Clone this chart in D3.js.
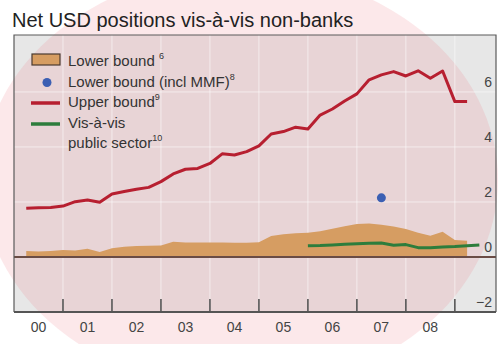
<!DOCTYPE html>
<html>
<head>
<meta charset="utf-8">
<script src="https://cdn.jsdelivr.net/npm/d3@7"></script>
<style>
  html, body { margin: 0; padding: 0; background: #fff; }
  svg { display: block; font-family: "Liberation Sans", Arial, sans-serif; }
</style>
</head>
<body>
<svg id="chart" width="500" height="344"></svg>
<script>
// ---------- data ----------
const yearLabels = ["00", "01", "02", "03", "04", "05", "06", "07", "08"];
const yTicks = [-2, 0, 2, 4, 6];
// quarterly observations, 2000 Q1 .. 2009 Q1 (plotted at quarter end)
const startYear = 2000;
const upperBound = [1.77, 1.79, 1.80, 1.85, 2.01, 2.07, 1.99, 2.29, 2.38, 2.46, 2.53, 2.74,
  3.02, 3.19, 3.22, 3.40, 3.75, 3.71, 3.83, 4.04, 4.47, 4.56, 4.72, 4.65,
  5.16, 5.38, 5.67, 5.93, 6.44, 6.62, 6.74, 6.58, 6.77, 6.50, 6.76, 5.65, 5.65];
const lowerBound = [0.22, 0.20, 0.22, 0.25, 0.24, 0.30, 0.18, 0.32, 0.37, 0.40, 0.41, 0.42,
  0.55, 0.53, 0.53, 0.53, 0.53, 0.52, 0.52, 0.54, 0.76, 0.83, 0.86, 0.88,
  0.94, 1.03, 1.12, 1.20, 1.22, 1.17, 1.11, 1.02, 0.88, 0.77, 0.92, 0.62, 0.59];
// public sector series starts 2005 Q3
const publicStartIndex = 23;
const publicSector = [0.41, 0.42, 0.44, 0.46, 0.48, 0.50, 0.51, 0.43, 0.45, 0.34, 0.34, 0.36, 0.38, 0.41, 0.44];
// single observation: lower bound incl MMF, 2007 Q2
const mmfPoint = { t: 2007.5, v: 2.15 };

const qTime = i => startYear + (i + 1) * 0.25;

// ---------- layout ----------
const svg = d3.select("#chart");
const L = 14, R = 496, T = 35, B = 312;
const x = d3.scaleLinear().domain([2000, 2009.84]).range([L, R]);
const y = d3.scaleLinear().domain([-2, 8.07]).range([B, T]);

// plot background
svg.append("rect").attr("x", L).attr("y", T).attr("width", R - L).attr("height", B - T)
  .attr("fill", "#e7e7e7");

// pink highlight ellipse
svg.append("ellipse").attr("cx", 240).attr("cy", 180).attr("rx", 258).attr("ry", 210)
  .attr("fill", "rgb(240,120,132)").attr("fill-opacity", 0.17);

// gridlines
const years = d3.range(2001, 2010);
svg.append("g").selectAll("line").data(years).join("line")
  .attr("x1", d => x(d)).attr("x2", d => x(d)).attr("y1", T).attr("y2", B)
  .attr("stroke", "#fff").attr("stroke-opacity", 0.55).attr("stroke-width", 1);
svg.append("g").selectAll("line").data([2, 4, 6]).join("line")
  .attr("x1", L).attr("x2", R).attr("y1", d => y(d)).attr("y2", d => y(d))
  .attr("stroke", "#fff").attr("stroke-opacity", 0.55).attr("stroke-width", 1);

// lower bound area
const areaData = lowerBound.map((v, i) => ({ t: qTime(i), v }));
svg.append("path").datum(areaData)
  .attr("d", d3.area().x(d => x(d.t)).y0(y(0)).y1(d => y(d.v)))
  .attr("fill", "#d69d62");

// upper bound line
const upperData = upperBound.map((v, i) => ({ t: qTime(i), v }));
svg.append("path").datum(upperData)
  .attr("d", d3.line().x(d => x(d.t)).y(d => y(d.v)))
  .attr("fill", "none").attr("stroke", "#b71f30").attr("stroke-width", 3)
  .attr("stroke-linejoin", "round");

// public sector line
const pubData = publicSector.map((v, i) => ({ t: qTime(publicStartIndex + i), v }));
svg.append("path").datum(pubData)
  .attr("d", d3.line().x(d => x(d.t)).y(d => y(d.v)))
  .attr("fill", "none").attr("stroke", "#2d7d3c").attr("stroke-width", 3)
  .attr("stroke-linejoin", "round");

// MMF dot
svg.append("circle").attr("cx", x(mmfPoint.t)).attr("cy", y(mmfPoint.v)).attr("r", 4.5)
  .attr("fill", "#3b5fb3");

// zero line
svg.append("line").attr("x1", L).attr("x2", R).attr("y1", y(0)).attr("y2", y(0))
  .attr("stroke", "#6a4c45").attr("stroke-width", 2);

// frame
svg.append("path")
  .attr("d", `M${L},${B}V${T}H${R}V${B}`)
  .attr("fill", "none").attr("stroke", "#5a5a5a").attr("stroke-width", 1.2);
svg.append("line").attr("x1", L).attr("x2", R).attr("y1", B).attr("y2", B)
  .attr("stroke", "#555").attr("stroke-width", 1.8);

// x tick marks (inward)
svg.append("g").selectAll("line").data(years).join("line")
  .attr("x1", d => x(d)).attr("x2", d => x(d)).attr("y1", B).attr("y2", B - 13)
  .attr("stroke", "#555").attr("stroke-width", 1.6);

// x labels
svg.append("g").selectAll("text").data(yearLabels).join("text")
  .attr("x", (d, i) => x(2000 + i + 0.5)).attr("y", 332)
  .attr("text-anchor", "middle").attr("font-size", 14).attr("fill", "#444")
  .text(d => d);

// y labels (right, above gridline)
svg.append("g").selectAll("text").data(yTicks).join("text")
  .attr("x", 492).attr("y", d => y(d) - 5)
  .attr("text-anchor", "end").attr("font-size", 14).attr("fill", "#444")
  .text(d => d < 0 ? "\u2212" + Math.abs(d) : d);

// title
svg.append("text").attr("x", 12).attr("y", 27).attr("font-size", 20).attr("fill", "#222")
  .text("Net USD positions vis-à-vis non-banks");

// legend
const lg = svg.append("g").attr("font-size", 15).attr("fill", "#333");
lg.append("rect").attr("x", 32).attr("y", 54).attr("width", 28).attr("height", 11)
  .attr("fill", "#d69d62").attr("stroke", "#4a3a30").attr("stroke-width", 1.2);
lg.append("circle").attr("cx", 47).attr("cy", 82.5).attr("r", 4.5).attr("fill", "#3b5fb3");
lg.append("line").attr("x1", 31).attr("x2", 60).attr("y1", 103).attr("y2", 103)
  .attr("stroke", "#b71f30").attr("stroke-width", 3.5);
lg.append("line").attr("x1", 31).attr("x2", 60).attr("y1", 124).attr("y2", 124)
  .attr("stroke", "#2d7d3c").attr("stroke-width", 3.5);

function legendText(xp, yp, main, sup) {
  const t = lg.append("text").attr("x", xp).attr("y", yp);
  t.append("tspan").text(main);
  if (sup) t.append("tspan").attr("dy", -7).attr("font-size", 9).text(sup);
}
legendText(68, 66, "Lower bound ", "6");
legendText(68, 87, "Lower bound (incl MMF)", "8");
legendText(68, 107, "Upper bound", "9");
legendText(68, 127.5, "Vis-à-vis", null);
legendText(68, 147.5, "public sector", "10");
</script>
</body>
</html>
